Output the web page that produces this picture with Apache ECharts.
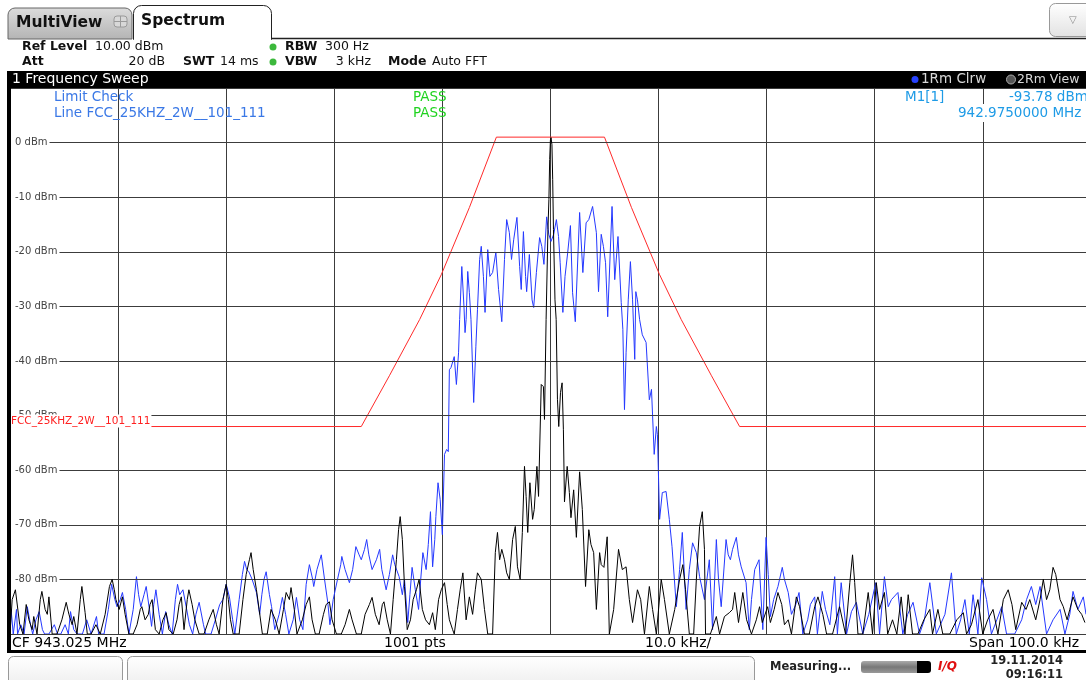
<!DOCTYPE html>
<html>
<head>
<meta charset="utf-8">
<script src="https://cdn.jsdelivr.net/npm/echarts@6/dist/echarts.min.js"></script>
<style>
  html, body { margin: 0; padding: 0; background: #fff; }
  #chart { width: 1086px; height: 680px; }
</style>
</head>
<body>
<div id="chart"></div>
<script>
// frequency offset from CF (kHz), level (dBm)
const blueTrace = [
  [-50.0,-90],[-49.9,-85.5],[-49.7,-90],[-49.4,-85.5],[-49.3,-90],[-49.0,-88.3],[-48.7,-90],[-48.4,-85.0],[-48.1,-88.3],[-47.9,-90],
  [-47.6,-87.4],[-47.3,-85.9],[-47.0,-89.2],[-46.8,-90],[-46.4,-90],[-45.9,-88.3],[-45.6,-90],[-45.3,-90],[-44.9,-88.3],[-44.6,-90],
  [-44.4,-85.9],[-44.1,-89.2],[-43.8,-90],[-43.3,-90],[-42.9,-87.4],[-42.5,-90],[-42.0,-86.8],[-41.8,-90],[-41.3,-90],[-40.9,-85.5],
  [-40.6,-80.9],[-40.3,-83.7],[-40.1,-85.0],[-39.8,-83.7],[-39.6,-82.4],[-39.3,-85.5],[-39.0,-90],[-38.6,-85.5],[-38.3,-79.5],[-38.1,-82.8],
  [-37.9,-85.0],[-37.6,-82.8],[-37.4,-81.3],[-37.1,-85.5],[-36.9,-88.6],[-36.7,-84.6],[-36.5,-81.9],[-36.2,-86.4],[-35.9,-90],[-35.6,-85.9],
  [-35.3,-88.3],[-35.0,-90],[-34.7,-83.7],[-34.5,-80.9],[-34.3,-82.8],[-34.0,-81.9],[-33.7,-85.0],[-33.4,-88.3],[-33.1,-90],[-32.8,-86.4],
  [-32.5,-84.2],[-32.1,-88.3],[-31.9,-90],[-31.4,-90],[-31.0,-87.4],[-30.6,-84.6],[-30.3,-83.7],[-30.0,-80.9],[-29.7,-83.2],[-29.4,-87.4],
  [-29.2,-90],[-28.8,-83.7],[-28.5,-79.1],[-28.3,-76.7],[-28.1,-78.2],[-27.9,-78.6],[-27.6,-80.0],[-27.2,-82.4],[-26.9,-86.4],[-26.7,-82.8],
  [-26.5,-80.0],[-26.3,-78.6],[-26.0,-82.8],[-25.8,-85.0],[-25.5,-89.2],[-25.1,-86.4],[-24.8,-83.3],[-24.5,-86.4],[-24.2,-90],[-23.8,-87.4],
  [-23.5,-83.3],[-23.2,-87.4],[-22.9,-89.2],[-22.6,-80.9],[-22.3,-77.3],[-22.0,-80.0],[-21.9,-81.3],[-21.6,-78.2],[-21.2,-75.5],[-20.9,-80.0],
  [-20.6,-84.2],[-20.4,-88.3],[-20.1,-83.7],[-19.7,-80.0],[-19.4,-77.3],[-19.3,-75.8],[-19.0,-78.2],[-18.6,-80.6],[-18.3,-78.2],[-18.0,-74.0],
  [-17.7,-75.5],[-17.5,-76.4],[-17.2,-74.5],[-17.0,-72.7],[-16.8,-75.5],[-16.5,-78.2],[-16.1,-76.4],[-15.8,-74.5],[-15.6,-78.2],[-15.2,-81.9],
  [-14.9,-79.1],[-14.6,-75.5],[-14.4,-77.3],[-14.0,-79.5],[-13.7,-82.8],[-13.5,-80.0],[-13.2,-87.9],[-13.0,-82.8],[-12.8,-77.8],[-12.5,-81.9],
  [-12.2,-85.5],[-12.0,-80.0],[-11.8,-75.1],[-11.5,-78.2],[-11.3,-73.6],[-11.1,-67.6],[-10.9,-77.7],[-10.7,-72.7],[-10.6,-68.5],[-10.4,-62.3],
  [-10.2,-65.4],[-10.0,-71.8],[-9.8,-57.1],[-9.6,-56.2],[-9.45,-56.6],[-9.35,-41.6],[-9.2,-41.2],[-9.1,-41.0],[-8.9,-39.2],[-8.7,-44.3],
  [-8.5,-38.5],[-8.4,-32.4],[-8.2,-22.7],[-8.0,-30.0],[-7.9,-34.8],[-7.8,-32.4],[-7.65,-23.6],[-7.5,-27.5],[-7.35,-32.4],[-7.1,-47.6],
  [-6.9,-37.4],[-6.75,-30.6],[-6.55,-21.4],[-6.4,-19.0],[-6.2,-24.5],[-6.05,-31.1],[-5.8,-19.6],[-5.6,-24.5],[-5.35,-23.8],[-5.05,-20.1],
  [-4.8,-26.9],[-4.5,-32.8],[-4.25,-21.4],[-4.05,-14.1],[-3.8,-16.5],[-3.6,-21.4],[-3.4,-17.8],[-3.1,-13.7],[-2.85,-22.7],[-2.7,-26.9],
  [-2.5,-16.3],[-2.3,-24.5],[-2.2,-27.3],[-1.95,-20.5],[-1.7,-28.8],[-1.55,-30.2],[-1.3,-23.8],[-1.0,-17.4],[-0.8,-19.0],[-0.6,-22.3],
  [-0.35,-13.6],[-0.15,-16.8],[0.05,-18.1],[0.3,-16.8],[0.55,-14.1],[0.75,-17.2],[0.9,-22.0],[1.15,-31.1],[1.35,-24.5],[1.6,-20.1],
  [1.85,-15.2],[2.05,-27.5],[2.3,-32.8],[2.7,-12.8],[3.0,-23.8],[3.3,-14.7],[3.55,-14.1],[3.9,-11.7],[4.25,-16.5],[4.45,-27.3],
  [4.7,-16.8],[4.9,-19.0],[5.1,-22.0],[5.3,-31.9],[5.7,-11.7],[5.95,-25.1],[6.25,-17.2],[6.55,-29.3],[6.7,-34.2],[6.85,-48.9],
  [7.0,-38.5],[7.2,-28.8],[7.4,-21.8],[7.6,-28.8],[7.8,-39.7],[7.9,-27.3],[8.05,-28.8],[8.25,-32.4],[8.5,-35.2],[8.85,-36.6],
  [9.15,-47.1],[9.35,-45.2],[9.6,-57.1],[9.8,-52.0],[9.9,-53.5],[10.1,-69.0],[10.35,-64.1],[10.7,-63.9],[11.0,-69.0],[11.25,-74.0],
  [11.65,-85.0],[11.95,-78.2],[12.2,-71.4],[12.55,-85.5],[12.85,-78.2],[13.15,-73.3],[13.5,-75.1],[13.8,-79.5],[14.25,-83.7],[14.7,-76.4],
  [15.0,-89.2],[15.35,-72.7],[15.55,-80.0],[15.8,-85.0],[16.25,-72.7],[16.45,-75.5],[16.65,-76.4],[16.85,-74.5],[17.2,-72.3],[17.4,-75.5],
  [17.65,-77.7],[18.1,-80.6],[18.4,-89.2],[18.6,-83.7],[18.9,-78.2],[19.3,-76.4],[19.65,-89.2],[19.95,-72.3],[20.15,-79.1],[20.35,-86.8],
  [20.65,-83.7],[21.05,-81.3],[21.45,-77.8],[21.65,-80.0],[22.0,-82.4],[22.3,-86.4],[22.7,-84.6],[23.0,-82.4],[23.35,-90],[23.8,-87.4],
  [24.05,-84.6],[24.45,-83.2],[24.7,-90],[25.15,-82.2],[25.45,-85.5],[25.85,-88.3],[26.3,-79.5],[26.55,-90],[26.9,-80.6],[27.4,-90],
  [27.85,-85.9],[28.3,-84.2],[28.9,-90],[29.45,-86.4],[30.1,-80.6],[30.45,-90],[30.9,-79.5],[31.25,-85.0],[31.55,-83.7],[32.15,-82.4],
  [32.6,-90],[33.05,-86.4],[33.55,-84.2],[34.15,-90],[34.6,-87.4],[35.1,-80.6],[35.7,-90],[36.5,-86.4],[37.1,-78.8],[37.55,-90],
  [37.95,-87.4],[38.35,-83.7],[38.75,-90],[39.1,-82.8],[39.55,-90],[39.9,-79.7],[40.35,-83.7],[40.8,-90],[41.3,-87.4],[41.75,-85.0],
  [42.2,-90],[42.95,-90],[43.6,-87.4],[44.05,-83.7],[44.5,-81.3],[44.9,-84.6],[45.3,-81.3],[45.9,-90],[46.5,-87.4],[47.15,-85.5],
  [47.6,-90],[48.05,-86.4],[48.35,-82.2],[48.8,-85.5],[49.3,-83.2],[49.55,-86.4]
];

const blackTrace = [
  [-50.0,-90],[-49.8,-83.7],[-49.5,-81.9],[-49.35,-82.2],[-49.1,-88.3],[-48.8,-90],[-48.5,-84.6],[-48.25,-87.4],[-47.95,-89.2],[-47.8,-86.8],
  [-47.5,-90],[-47.2,-83.7],[-47.05,-82.2],[-46.75,-85.5],[-46.55,-86.4],[-46.4,-83.2],[-46.1,-90],[-45.65,-90],[-45.2,-87.4],[-44.8,-84.2],
  [-44.55,-86.4],[-44.25,-88.3],[-44.1,-86.8],[-43.8,-90],[-43.5,-83.7],[-43.35,-81.3],[-43.05,-86.1],[-42.85,-90],[-42.5,-90],[-42.05,-88.3],
  [-41.65,-90],[-41.2,-86.4],[-40.8,-81.3],[-40.55,-80.0],[-40.35,-81.9],[-40.2,-83.7],[-39.9,-85.5],[-39.6,-83.2],[-39.35,-86.4],[-39.0,-90],
  [-38.6,-90],[-38.25,-88.3],[-37.95,-85.5],[-37.8,-85.0],[-37.5,-87.4],[-37.2,-86.4],[-37.05,-84.6],[-36.85,-83.7],[-36.55,-89.2],[-36.2,-90],
  [-35.85,-87.4],[-35.55,-86.1],[-35.3,-89.2],[-34.9,-90],[-34.55,-87.4],[-34.35,-84.6],[-34.15,-83.2],[-33.9,-89.2],[-33.6,-83.7],[-33.45,-81.9],
  [-33.15,-84.6],[-32.9,-87.4],[-32.5,-90],[-32.05,-90],[-31.6,-87.4],[-31.2,-85.5],[-30.9,-88.3],[-30.65,-90],[-30.3,-83.7],[-30.0,-80.9],
  [-29.8,-83.7],[-29.6,-87.4],[-29.35,-90],[-28.8,-90],[-28.45,-83.7],[-28.15,-79.1],[-27.85,-76.4],[-27.7,-75.1],[-27.5,-78.2],[-27.2,-81.9],
  [-26.95,-85.5],[-26.65,-90],[-26.2,-90],[-25.85,-85.5],[-25.45,-87.4],[-25.1,-90],[-24.7,-85.5],[-24.45,-82.4],[-24.15,-83.7],[-24.0,-81.5],
  [-23.7,-85.5],[-23.45,-90],[-22.95,-87.4],[-22.6,-84.6],[-22.3,-83.2],[-22.05,-87.4],[-21.75,-90],[-21.4,-90],[-21.0,-86.4],[-20.75,-84.6],
  [-20.45,-84.1],[-20.2,-87.4],[-19.8,-90],[-19.35,-90],[-19.0,-88.3],[-18.6,-85.5],[-18.35,-87.4],[-17.95,-90],[-17.5,-90],[-17.15,-86.4],
  [-16.75,-84.6],[-16.5,-83.3],[-16.2,-86.4],[-15.85,-88.3],[-15.55,-84.6],[-15.4,-84.1],[-15.1,-87.4],[-14.8,-90],[-14.55,-83.7],[-14.25,-76.4],
  [-14.05,-70.9],[-13.9,-68.5],[-13.7,-72.7],[-13.5,-81.3],[-13.25,-89.2],[-12.95,-87.4],[-12.7,-83.7],[-12.4,-81.9],[-12.15,-80.0],[-11.85,-85.5],
  [-11.55,-87.4],[-11.2,-88.3],[-10.9,-86.1],[-10.65,-89.2],[-10.35,-83.7],[-10.1,-81.9],[-9.8,-80.6],[-9.55,-84.6],[-9.35,-87.4],[-9.05,-89.2],
  [-8.9,-90],[-8.6,-85.5],[-8.35,-81.9],[-8.1,-78.8],[-7.8,-87.4],[-7.5,-83.2],[-7.2,-86.4],[-6.95,-81.9],[-6.75,-78.8],[-6.4,-80.0],
  [-6.1,-85.5],[-5.8,-90],[-5.35,-90],[-5.1,-75.1],[-4.9,-71.4],[-4.7,-76.4],[-4.5,-74.5],[-4.25,-76.4],[-4.05,-78.8],[-3.8,-80.0],
  [-3.5,-72.7],[-3.25,-70.3],[-3.05,-77.7],[-2.8,-80.0],[-2.6,-71.4],[-2.4,-59.3],[-2.25,-64.8],[-2.1,-71.4],[-1.9,-62.3],[-1.65,-69.0],
  [-1.5,-67.2],[-1.25,-59.3],[-1.1,-64.8],[-0.85,-44.3],[-0.65,-44.7],[-0.55,-50.7],[-0.4,-32.4],[-0.23,-15.9],[-0.14,-10.4],[-0.07,-3.1],
  [0.0,0.5],[0.06,0.9],[0.14,-0.4],[0.21,-6.8],[0.28,-15.9],[0.42,-28.8],[0.53,-32.4],[0.65,-47.1],[0.77,-52.0],[0.93,-45.8],
  [1.08,-44.0],[1.2,-52.6],[1.3,-65.8],[1.55,-59.3],[1.75,-64.1],[1.9,-68.7],[2.15,-63.6],[2.4,-72.3],[2.7,-60.3],[2.95,-67.2],
  [3.25,-81.3],[3.55,-70.9],[3.75,-73.6],[4.0,-75.1],[4.25,-85.5],[4.55,-75.1],[4.7,-77.3],[4.95,-77.8],[5.25,-72.2],[5.45,-90],
  [5.85,-85.5],[6.3,-74.5],[6.65,-78.2],[7.0,-77.7],[7.3,-83.7],[7.6,-87.9],[8.05,-81.9],[8.35,-83.7],[8.7,-90],[9.15,-81.3],
  [9.45,-85.5],[9.8,-90],[10.25,-80.0],[10.55,-83.7],[11.0,-90],[11.5,-85.5],[11.95,-80.0],[12.25,-77.3],[12.5,-81.9],[12.85,-90],
  [13.25,-90],[13.5,-80.0],[13.8,-70.3],[14.05,-67.6],[14.25,-74.5],[14.35,-90],[14.8,-90],[15.35,-86.8],[15.65,-90],[16.1,-86.8],
  [16.55,-86.1],[16.85,-85.5],[17.05,-82.4],[17.4,-87.9],[17.8,-82.4],[18.15,-87.4],[18.6,-90],[19.05,-87.4],[19.35,-85.0],[19.6,-87.9],
  [20.1,-85.0],[20.35,-87.9],[20.7,-85.5],[21.05,-82.4],[21.4,-84.6],[21.65,-88.3],[22.0,-87.4],[22.3,-90],[22.75,-83.2],[23.05,-85.0],
  [23.5,-90],[23.95,-90],[24.45,-85.0],[24.75,-83.2],[25.2,-86.4],[25.55,-90],[26.1,-90],[26.75,-85.0],[27.3,-90],[27.7,-80.6],
  [27.95,-75.5],[28.15,-80.6],[28.45,-90],[28.9,-90],[29.4,-82.4],[29.8,-90],[30.15,-80.6],[30.45,-85.5],[30.9,-82.4],[31.2,-90],
  [31.65,-87.4],[32.05,-90],[32.45,-83.2],[32.8,-90],[33.1,-82.8],[33.5,-90],[34.0,-90],[34.55,-87.4],[35.1,-85.5],[35.35,-90],
  [35.85,-85.5],[36.3,-90],[36.95,-90],[37.6,-87.4],[38.2,-86.1],[38.5,-90],[38.95,-88.3],[39.55,-83.7],[40.0,-90],[40.45,-87.4],
  [40.95,-85.5],[41.4,-90],[41.9,-83.7],[42.35,-81.9],[42.7,-84.6],[43.05,-89.2],[43.6,-84.2],[44.0,-85.5],[44.35,-83.7],[44.9,-87.4],
  [45.3,-83.7],[45.6,-80.0],[45.9,-83.7],[46.2,-81.9],[46.5,-77.8],[46.75,-79.1],[47.15,-83.7],[47.45,-85.0],[47.8,-87.4],[48.05,-85.5],
  [48.35,-83.2],[48.8,-85.5],[49.15,-86.4],[49.45,-87.9]
];

// limit line FCC_25KHZ_2W__101_111
const limitLine = [
  [-50,-52],[-17.5,-52],[-14.9,-42.7],[-12.1,-32.4],[-10.1,-24.2],[-7.5,-11.9],[-5,1],
  [5,1],[7.5,-11.9],[10.1,-24.2],[12.1,-32.4],[14.9,-42.7],[17.5,-52],[49.55,-52]
];

const yTicks = { min: -90, max: 10, step: 10 };
const xTicks = { min: -50, max: 49.55, step: 10 };

const FONT = '"DejaVu Sans", Verdana, sans-serif';

function txt(text, x, y, opt) {
  opt = opt || {};
  return {
    type: 'text',
    z: opt.z || 50,
    style: Object.assign({
      text: text, x: x, y: y,
      font: (opt.bold ? 'bold ' : '') + (opt.size || 12.5) + 'px ' + FONT,
      fill: opt.color || '#111',
      textAlign: opt.align || 'left',
      textVerticalAlign: 'middle'
    }, opt.extra || {})
  };
}

let myChart = echarts.init(document.getElementById('chart'));

let graphics = [
  // tabs
  { type: 'rect', z: 40, shape: { x: 8, y: 8, width: 124, height: 31, r: [7, 7, 0, 0] },
    style: { fill: new echarts.graphic.LinearGradient(0, 0, 0, 1, [{ offset: 0, color: '#dcdcdc' }, { offset: 1, color: '#b4b4b4' }]), stroke: '#666', lineWidth: 1 } },
  txt('MultiView', 16, 23, { bold: true, size: 15.5 }),
  { type: 'rect', z: 45, shape: { x: 114, y: 16, width: 13, height: 11, r: 3 }, style: { fill: '#d8d8d8', stroke: '#9a9a9a' } },
  { type: 'line', z: 46, shape: { x1: 120.5, y1: 16, x2: 120.5, y2: 27 }, style: { stroke: '#9a9a9a' } },
  { type: 'line', z: 46, shape: { x1: 114, y1: 21.5, x2: 127, y2: 21.5 }, style: { stroke: '#9a9a9a' } },
  { type: 'rect', z: 40, shape: { x: 133.5, y: 5.5, width: 138, height: 34, r: [8, 8, 0, 0] }, style: { fill: '#fff', stroke: '#222', lineWidth: 1 } },
  { type: 'line', z: 41, shape: { x1: 134, y1: 39.5, x2: 271, y2: 39.5 }, style: { stroke: '#fff', lineWidth: 2 } },
  { type: 'line', z: 41, shape: { x1: 271.5, y1: 38.5, x2: 1086, y2: 38.5 }, style: { stroke: '#222', lineWidth: 1.5 } },
  txt('Spectrum', 141, 21, { bold: true, size: 15.5 }),
  { type: 'rect', z: 40, shape: { x: 1049.5, y: 3.5, width: 45, height: 33, r: 6 },
    style: { fill: new echarts.graphic.LinearGradient(0, 0, 0, 1, [{ offset: 0, color: '#ffffff' }, { offset: 1, color: '#e2e2e2' }]), stroke: '#999' } },
  txt('\u25BD', 1069, 20, { size: 10, color: '#888' }),

  // settings block
  txt('Ref Level', 22, 47, { bold: true }),
  txt('10.00 dBm', 95, 47),
  txt('Att', 22, 62, { bold: true }),
  txt('20 dB', 165, 62, { align: 'right' }),
  txt('SWT', 183, 62, { bold: true }),
  txt('14 ms', 220, 62),
  { type: 'circle', z: 50, shape: { cx: 273, cy: 47, r: 3.5 }, style: { fill: '#3cb83c' } },
  { type: 'circle', z: 50, shape: { cx: 273, cy: 62, r: 3.5 }, style: { fill: '#3cb83c' } },
  txt('RBW', 285, 47, { bold: true }),
  txt('300 Hz', 325, 47),
  txt('VBW', 285, 62, { bold: true }),
  txt('3 kHz', 371, 62, { align: 'right' }),
  txt('Mode', 388, 62, { bold: true }),
  txt('Auto FFT', 432, 62),

  // window title bar
  { type: 'rect', z: 40, shape: { x: 7, y: 71, width: 1079, height: 17 }, style: { fill: '#000' } },
  txt('1 Frequency Sweep', 12, 79.5, { size: 14, color: '#fff' }),
  { type: 'circle', z: 50, shape: { cx: 915, cy: 79.5, r: 3.5 }, style: { fill: '#2742ff' } },
  txt('1Rm Clrw', 921, 79.5, { size: 13.5, color: '#d8d8d8' }),
  { type: 'circle', z: 50, shape: { cx: 1011, cy: 79.5, r: 4.5 }, style: { fill: '#555', stroke: '#aaa' } },
  txt('2Rm View', 1017, 79.5, { size: 12.5, color: '#d8d8d8' }),

  // frame
  { type: 'rect', z: 40, shape: { x: 7, y: 71, width: 4, height: 582 }, style: { fill: '#000' } },
  { type: 'rect', z: 40, shape: { x: 11, y: 635, width: 1075, height: 15 }, style: { fill: '#fff' } },
  { type: 'rect', z: 40, shape: { x: 7, y: 650, width: 1079, height: 3 }, style: { fill: '#000' } },
  txt('CF 943.025 MHz', 12, 643, { size: 14, color: '#000' }),
  txt('1001 pts', 384, 643, { size: 14, color: '#000' }),
  txt('10.0 kHz/', 645, 643, { size: 14, color: '#000' }),
  txt('Span 100.0 kHz', 969, 643, { size: 14, color: '#000' }),

  // limit check / marker info in diagram
  txt('Limit Check', 54, 97, { size: 13.5, color: '#3a78e6' }),
  txt('Line FCC_25KHZ_2W__101_111', 54, 113, { size: 13.5, color: '#3a78e6' }),
  txt('PASS', 413, 97, { size: 13.5, color: '#1fd31f' }),
  txt('PASS', 413, 113, { size: 13.5, color: '#1fd31f' }),
  txt('M1[1]', 905, 97, { size: 13.5, color: '#1e9be6' }),
  txt('-93.78 dBm', 1009, 97, { size: 13.5, color: '#1e9be6' }),
  txt('942.9750000 MHz', 958, 113, { size: 13.5, color: '#1e9be6', extra: { backgroundColor: '#fff', padding: [1, 0, 3, 0] } }),
  txt('FCC_25KHZ_2W__101_111', 11, 421, { size: 10.5, color: '#ff2020', z: 100, extra: { backgroundColor: '#fff', padding: [1, 1, 1, 0] } }),

  // status bar
  { type: 'rect', z: 40, shape: { x: 8.5, y: 656.5, width: 114, height: 30, r: 5 },
    style: { fill: new echarts.graphic.LinearGradient(0, 0, 0, 1, [{ offset: 0, color: '#fff' }, { offset: 1, color: '#eee' }]), stroke: '#999' } },
  { type: 'rect', z: 40, shape: { x: 127.5, y: 656.5, width: 627, height: 30, r: 5 },
    style: { fill: new echarts.graphic.LinearGradient(0, 0, 0, 1, [{ offset: 0, color: '#fff' }, { offset: 1, color: '#eee' }]), stroke: '#999' } },
  txt('Measuring...', 770, 667, { bold: true, size: 11.5, color: '#222' }),
  { type: 'rect', z: 40, shape: { x: 861, y: 661, width: 58, height: 12, r: [3, 0, 0, 3] },
    style: { fill: new echarts.graphic.LinearGradient(0, 0, 0, 1, [{ offset: 0, color: '#aaa' }, { offset: 0.5, color: '#777' }, { offset: 1, color: '#999' }]) } },
  { type: 'rect', z: 40, shape: { x: 917, y: 661, width: 14, height: 12, r: [0, 3, 3, 0] }, style: { fill: '#000' } },
  txt('I/Q', 938, 667, { bold: true, size: 12, color: '#e01010', extra: { font: 'italic bold 12px ' + FONT } }),
  txt('19.11.2014', 1063, 661, { bold: true, size: 11.5, color: '#222', align: 'right' }),
  txt('09:16:11', 1063, 675, { bold: true, size: 11.5, color: '#222', align: 'right' })
];

let option = {
  animation: false,
  backgroundColor: '#fff',
  grid: { left: 10, right: 0, top: 88, bottom: 46 },
  xAxis: {
    type: 'value',
    min: xTicks.min,
    max: xTicks.max,
    interval: xTicks.step,
    axisLine: { show: false },
    axisTick: { show: false },
    axisLabel: { show: false },
    splitLine: { show: true, lineStyle: { color: '#3c3c3c', width: 1 } }
  },
  yAxis: {
    type: 'value',
    min: yTicks.min,
    max: yTicks.max,
    interval: yTicks.step,
    axisLine: { show: false },
    axisTick: { show: false },
    splitLine: { show: true, lineStyle: { color: '#3c3c3c', width: 1 } },
    axisLabel: {
      inside: true,
      margin: 0,
      showMinLabel: false,
      showMaxLabel: false,
      formatter: '{value} dBm',
      color: '#444',
      fontSize: 10,
      fontFamily: FONT,
      backgroundColor: '#fff',
      padding: [1, 2, 1, 5]
    },
    z: 5
  },
  series: [
    {
      name: 'limit',
      type: 'line',
      data: limitLine,
      showSymbol: false,
      lineStyle: { color: '#ff2a2a', width: 1 },
      z: 3
    },
    {
      name: '1Rm Clrw',
      type: 'line',
      data: blueTrace,
      showSymbol: false,
      lineStyle: { color: '#2438ff', width: 1 },
      z: 4
    },
    {
      name: '2Rm View',
      type: 'line',
      data: blackTrace,
      showSymbol: false,
      lineStyle: { color: '#000', width: 1 },
      z: 5
    }
  ],
  graphic: graphics
};

myChart.setOption(option);
</script>
</body>
</html>
